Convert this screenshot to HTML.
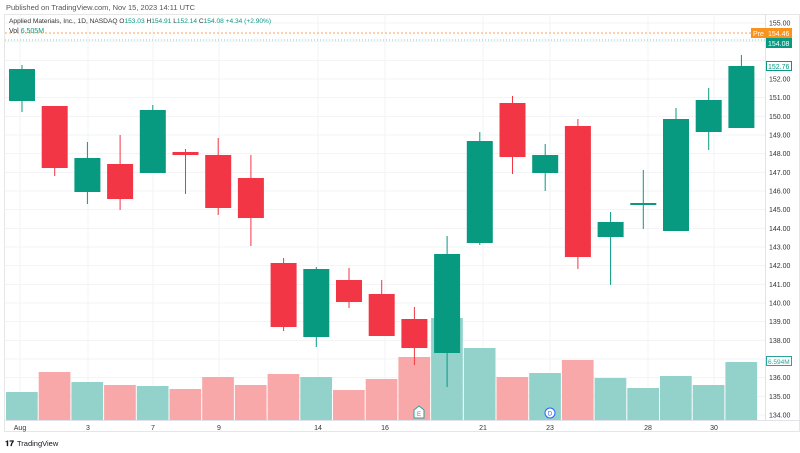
<!DOCTYPE html>
<html><head><meta charset="utf-8"><style>
body{margin:0;background:#fff;font-family:"Liberation Sans",sans-serif;}
svg{display:block}
text{font-family:"Liberation Sans",sans-serif;}
</style></head><body>
<svg id="s" width="800" height="453" viewBox="0 0 800 453">
<rect width="800" height="453" fill="#fff"/>
<text x="6" y="10" font-size="7.5" fill="#555">Published on TradingView.com, Nov 15, 2023 14:11 UTC</text>
<rect x="4.5" y="14.5" width="795" height="417" fill="none" stroke="#e6e6e6"/>
<g id="grid"></g>
<g id="vol"></g>
<g id="cand"></g>
<line x1="5" y1="33" x2="765" y2="33" stroke="#f7a35c" stroke-dasharray="2,2" stroke-width="1"/>
<line x1="5" y1="40" x2="765" y2="40" stroke="#7cc8bb" stroke-dasharray="1,2" stroke-width="1"/>
<text x="9" y="23" font-size="6.6" fill="#333">Applied Materials, Inc., 1D, NASDAQ  O<tspan fill="#089981">153.03</tspan>  H<tspan fill="#089981">154.91</tspan>  L<tspan fill="#089981">152.14</tspan>  C<tspan fill="#089981">154.08</tspan>  <tspan fill="#089981">+4.34 (+2.90%)</tspan></text>
<text x="9" y="33" font-size="7" fill="#333">Vol <tspan fill="#089981">6.505M</tspan></text>
<line x1="765.5" y1="14" x2="765.5" y2="420" stroke="#e0e3eb"/>
<line x1="5" y1="420.5" x2="800" y2="420.5" stroke="#e0e3eb"/>
<g id="pax" font-size="7" fill="#333"></g>
<rect x="751" y="28" width="15" height="10" fill="#f7931e"/>
<text x="753" y="36" font-size="7" fill="#fff">Pre</text>
<rect x="766" y="28" width="26" height="10" fill="#f7931e"/>
<text x="768" y="36" font-size="7" fill="#fff">154.46</text>
<rect x="766" y="38" width="26" height="10" fill="#089981"/>
<text x="768" y="46" font-size="7" fill="#fff">154.08</text>
<rect x="766.5" y="61.5" width="25" height="9" fill="#fff" stroke="#089981"/>
<text x="768" y="69" font-size="7" fill="#089981">152.76</text>
<rect x="766.5" y="356.5" width="25" height="9" fill="#fff" stroke="#26a69a"/>
<text x="768" y="364" font-size="6.5" fill="#26a69a">6.594M</text>
<g font-size="7" fill="#333" text-anchor="middle">
<text x="20" y="430">Aug</text><text x="88" y="430">3</text><text x="153" y="430">7</text><text x="219" y="430">9</text><text x="318" y="430">14</text><text x="385" y="430">16</text><text x="483" y="430">21</text><text x="550" y="430">23</text><text x="648" y="430">28</text><text x="714" y="430">30</text>
</g>
<path d="M414 410 l5 -4 l5 4 v8 h-10z" fill="#fff" stroke="#26a69a"/>
<text x="419" y="416" font-size="6" fill="#26a69a" text-anchor="middle">E</text>
<circle cx="550" cy="413" r="5" fill="#fff" stroke="#2962ff"/>
<text x="550" y="415.5" font-size="6" fill="#2962ff" text-anchor="middle">D</text>
<text x="5" y="446" font-size="8" fill="#131722" font-weight="bold">𝟏𝟕</text>
<text x="17" y="446" font-size="7.5" fill="#131722">TradingView</text>
</svg>
<script>
const NS="http://www.w3.org/2000/svg";
function el(p,t,a){const e=document.createElementNS(NS,t);for(const k in a)e.setAttribute(k,a[k]);p.appendChild(e);return e;}
const g=document.getElementById('grid'),pax=document.getElementById('pax');
const Y=p=>23+(155-p)*18.667;
for(let p=134;p<=155;p++){const y=Y(p);el(g,'line',{x1:5,x2:765,y1:y,y2:y,stroke:'#f2f3f5'});
 if(p!==153){const t=el(pax,'text',{x:769,y:y+2.5});t.textContent=p.toFixed(2);}}
[20,88,153,219,318,385,483,550,648,714].forEach(x=>el(g,'line',{x1:x,x2:x,y1:14,y2:420,stroke:'#f2f3f5'}));
const C=[[1,69,101,65,112],[0,106,168,106,176],[1,158,192,142,204],[0,164,199,135,210],[1,110,173,105,173],[0,152,155,149,194],[0,155,208,138,215],[0,178,218,155,246],[0,263,327,258,331],[1,269,337,267,347],[0,280,302,268,308],[0,294,336,280,336],[0,319,348,307,365],[1,254,353,236,387],[1,141,243,132,245],[0,103,157,96,174],[1,155,173,144,191],[0,126,257,119,269],[1,222,237,212,285],[1,203,205,170,229],[1,119,231,108,231],[1,100,132,88,150],[1,66,128,55,128]];
const V=[392,372,382,385,386,389,377,385,374,377,390,379,357,318,348,377,373,360,378,388,376,385,362];
const vg=document.getElementById('vol'),cg=document.getElementById('cand');
C.forEach((c,i)=>{const x=22+32.7*i;const col=c[0]?'#089981':'#f23645';
 el(vg,'rect',{x:x-16,y:V[i],width:31.7,height:420-V[i],fill:c[0]?'#92d2cb':'#f8a8a8'});
 el(cg,'line',{x1:x,x2:x,y1:c[3],y2:c[4],stroke:col});
 el(cg,'rect',{x:x-13,y:c[1],width:26,height:Math.max(2,c[2]-c[1]),fill:col});});
</script>
</body></html>
